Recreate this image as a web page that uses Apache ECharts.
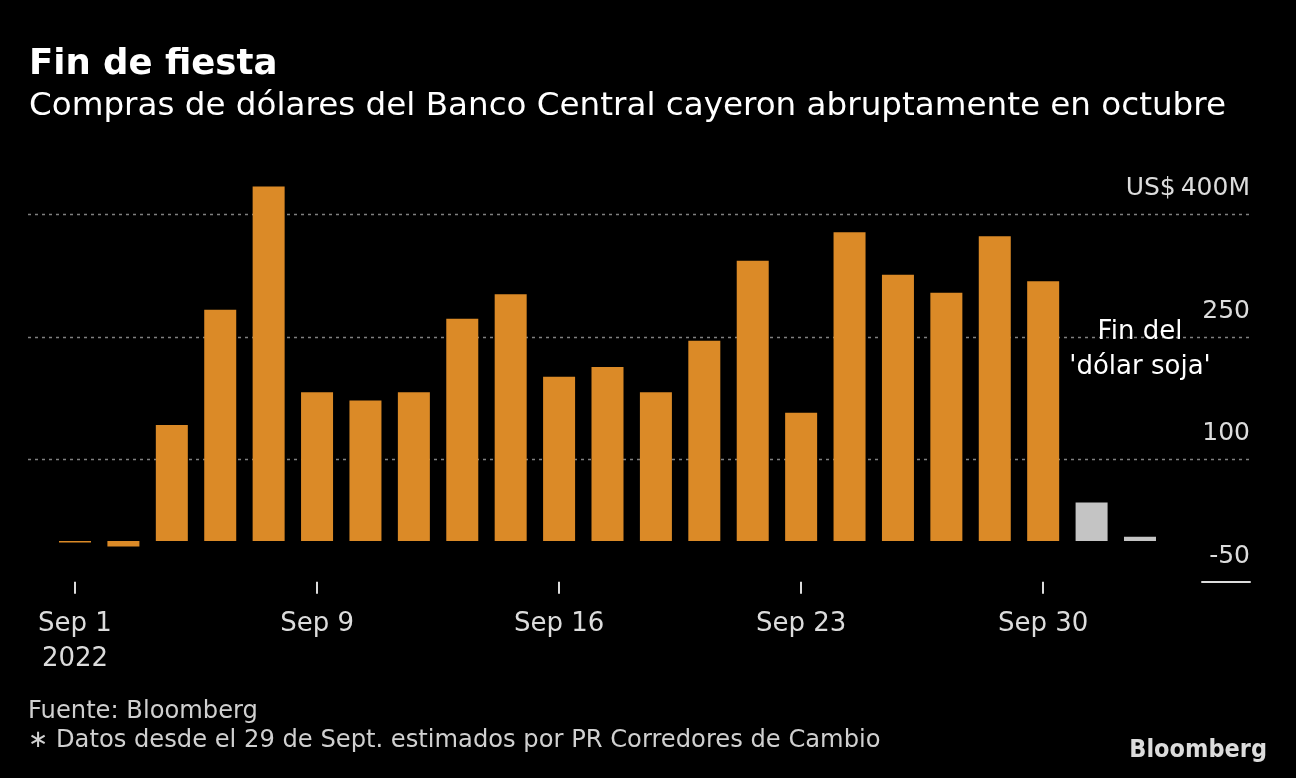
<!DOCTYPE html>
<html>
<head>
<meta charset="utf-8">
<script src="https://cdn.jsdelivr.net/npm/echarts@6/dist/echarts.min.js"></script>
<style>
  html, body { margin: 0; padding: 0; background: #000; }
  #chart { width: 1296px; height: 778px; }
</style>
</head>
<body>
<div id="chart"></div>
<script>
// ---- Data ----
const categories = ['Sep 1', 'Sep 5', 'Sep 6', 'Sep 7', 'Sep 8', 'Sep 9',
  'Sep 12', 'Sep 13', 'Sep 14', 'Sep 15', 'Sep 16',
  'Sep 19', 'Sep 20', 'Sep 21', 'Sep 22', 'Sep 23',
  'Sep 26', 'Sep 27', 'Sep 28', 'Sep 29', 'Sep 30',
  'Oct 3', 'Oct 4'];
// Central bank dollar purchases, US$ millions
const compras = [-2, -7, 142, 283, 434, 182, 172, 182, 272, 302, 201,
  213, 182, 245, 343, 157, 378, 326, 304, 373, 318, null, null];
// October (after end of 'dólar soja'), shown in grey
const comprasOctubre = [null, null, null, null, null, null, null, null, null, null, null,
  null, null, null, null, null, null, null, null, null, null, 47, 5];
const yMin = -50, yMax = 400, yStep = 150;
const labelEvery = 5;            // x labels at Sep 1, Sep 9, Sep 16, Sep 23, Sep 30
const yearLabel = '2022';
const annotation = { category: 'Oct 4', value: 234, text: "Fin del\n'dólar soja'" };

const FONT = 'DejaVu Sans';
const chart = echarts.init(document.getElementById('chart'), null, { renderer: 'canvas' });

const gTop = 214.3, gBottom = 778 - 581.7;
const showIdx = (i) => i % labelEvery === 0 && i <= 20;

const option = {
  backgroundColor: '#000',
  animation: false,
  textStyle: { fontFamily: FONT },
  title: [
    { text: 'Fin de fiesta', left: 29, top: 47, padding: 0,
      textStyle: { color: '#fff', fontSize: 35.5, fontWeight: 'bold', fontFamily: FONT } },
    { text: 'Compras de dólares del Banco Central cayeron abruptamente en octubre', left: 29, top: 90, padding: 0,
      textStyle: { color: '#fff', fontSize: 32.6, fontWeight: 'normal', fontFamily: FONT } },
    { text: 'Fuente: Bloomberg', left: 28, top: 700, padding: 0,
      textStyle: { color: '#d0d0d0', fontSize: 24.2, fontWeight: 'normal', fontFamily: FONT } },
    { text: '\u2217 Datos desde el 29 de Sept. estimados por PR Corredores de Cambio', left: 28, top: 729, padding: 0,
      textStyle: { color: '#d0d0d0', fontSize: 24.2, fontWeight: 'normal', fontFamily: FONT } },
    { text: 'Bloomberg', right: 29, top: 738, padding: 0,
      textStyle: { color: '#dcdcdc', fontSize: 25, fontWeight: 'bold', fontFamily: "'DejaVu Sans Condensed', 'Liberation Sans Narrow', sans-serif" } }
  ],
  grid: [
    { left: 50.8, right: 131.8, top: gTop, bottom: gBottom, outerBoundsMode: 'none' },
    { left: 28, right: 46, top: gTop, bottom: gBottom, outerBoundsMode: 'none' },
    { left: 1202, right: 46, top: gTop, bottom: gBottom, outerBoundsMode: 'none' }
  ],
  xAxis: [
    {
      type: 'category', gridIndex: 0, data: categories, boundaryGap: true,
      axisLine: { show: false, onZero: false },
      axisTick: { show: true, alignWithLabel: true, interval: (i) => showIdx(i), length: 12,
        lineStyle: { color: '#dcdcdc', width: 2 } },
      axisLabel: { interval: (i) => showIdx(i), color: '#dcdcdc', fontSize: 26, lineHeight: 35, margin: 25,
        fontFamily: FONT,
        formatter: (v, i) => (i === 0 ? v + '\n' + yearLabel : v) },
      splitLine: { show: false }
    },
    { type: 'value', gridIndex: 1, min: 0, max: 1, show: false },
    {
      type: 'value', gridIndex: 2, min: 0, max: 1,
      axisLine: { show: true, onZero: false, lineStyle: { color: '#dcdcdc', width: 2 } },
      axisTick: { show: false }, axisLabel: { show: false }, splitLine: { show: false }
    }
  ],
  yAxis: [
    { type: 'value', gridIndex: 0, min: yMin, max: yMax, interval: yStep, show: false },
    {
      type: 'value', gridIndex: 1, min: yMin, max: yMax, interval: yStep, position: 'right',
      axisLine: { show: false }, axisTick: { show: false },
      axisLabel: {
        inside: true, margin: 0, color: '#dcdcdc', fontSize: 25, lineHeight: 25, fontFamily: FONT,
        verticalAlign: 'bottom', padding: [0, 0, 13, 0],
        formatter: (v) => (v === yMax ? 'US$\u2009' + v + 'M' : String(v))
      },
      splitLine: { show: true, showMinLine: false, lineStyle: { color: '#808080', width: 1.3, type: [3, 4] } }
    },
    { type: 'value', gridIndex: 2, min: yMin, max: yMax, show: false }
  ],
  series: [
    {
      name: 'Compras', type: 'bar', xAxisIndex: 0, yAxisIndex: 0, data: compras,
      barWidth: 32, barGap: '-100%', clip: false,
      itemStyle: { color: '#DB8A27' }
    },
    {
      name: 'Octubre', type: 'bar', xAxisIndex: 0, yAxisIndex: 0, data: comprasOctubre,
      barWidth: 32, barGap: '-100%', clip: false,
      itemStyle: { color: '#c4c4c4' },
      markPoint: {
        symbol: 'circle', symbolSize: 1, itemStyle: { color: 'rgba(0,0,0,0)' },
        label: { show: true, position: 'inside', color: '#fff', fontSize: 26, lineHeight: 35,
          fontFamily: FONT, formatter: annotation.text },
        data: [{ coord: [annotation.category, annotation.value] }]
      }
    }
  ]
};
chart.setOption(option);
</script>
</body>
</html>
